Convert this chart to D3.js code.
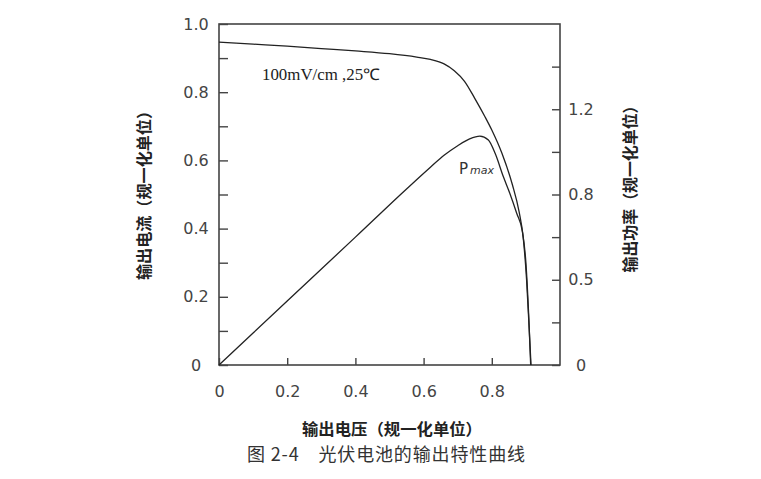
<!DOCTYPE html>
<html>
<head>
<meta charset="utf-8">
<script src="https://cdn.jsdelivr.net/npm/d3@7/dist/d3.min.js"></script>
<style>
  html, body { margin: 0; padding: 0; background: #fff; }
  svg { display: block; }
</style>
</head>
<body>
<svg id="chart" width="761" height="479"></svg>
<script>
// ---- data ----
const voltageIV = [0, 0.1, 0.2, 0.3, 0.4, 0.5, 0.58, 0.62, 0.66, 0.69, 0.72, 0.75, 0.78, 0.80, 0.83, 0.86, 0.88, 0.892, 0.902, 0.91, 0.915];
const currentIV = [0.947, 0.941, 0.935, 0.928, 0.921, 0.913, 0.903, 0.896, 0.883, 0.863, 0.832, 0.782, 0.728, 0.689, 0.62, 0.53, 0.45, 0.375, 0.25, 0.1, 0];

const voltagePV = [0, 0.2, 0.4, 0.55, 0.62, 0.66, 0.70, 0.735, 0.765, 0.79, 0.81, 0.834, 0.853, 0.873, 0.89, 0.90, 0.908, 0.914];
const powerPV   = [0, 0.30, 0.60, 0.826, 0.928, 0.984, 1.029, 1.061, 1.074, 1.056, 0.992, 0.883, 0.805, 0.712, 0.624, 0.48, 0.24, 0];

const xTickValues = [0, 0.2, 0.4, 0.6, 0.8];
const xTickLabels = ["0", "0.2", "0.4", "0.6", "0.8"];
const leftTickValues = [0, 0.1, 0.2, 0.3, 0.4, 0.5, 0.6, 0.7, 0.8, 0.9, 1.0];
const leftTickLabels = ["0", "", "0.2", "", "0.4", "", "0.6", "", "0.8", "", "1.0"];
const rightTickValues = [0, 0.2, 0.4, 0.6, 0.8, 1.0, 1.2, 1.4];
const rightTickLabels = ["0", "", "0.5", "", "0.8", "", "1.2", ""];

const xTitle = "输出电压（规一化单位）";
const yLeftTitle = "输出电流（规一化单位）";
const yRightTitle = "输出功率（规一化单位）";
const caption = "图 2-4\u3000光伏电池的输出特性曲线";
const conditionLabel = "100mV/cm ,25℃";

// ---- layout ----
const L = 219, R = 560, T = 24, B = 365;
const svg = d3.select("#chart");

const x = d3.scaleLinear().domain([0, 1]).range([L, R]);
const yL = d3.scaleLinear().domain([0, 1]).range([B, T]);
const yR = d3.scaleLinear().domain([0, 1.6]).range([B, T]);

const axisColor = "#444";
const labelFont = "'DejaVu Sans', sans-serif";
const cjk = "'Noto Sans CJK SC', sans-serif";

// frame
svg.append("rect")
  .attr("x", L).attr("y", T).attr("width", R - L).attr("height", B - T)
  .attr("fill", "none").attr("stroke", axisColor).attr("stroke-width", 1.6);

function styleAxis(g) {
  g.select(".domain").remove();
  g.selectAll(".tick line").attr("stroke", axisColor).attr("stroke-width", 1.4);
  g.selectAll(".tick text")
    .attr("fill", "#444")
    .style("font-family", labelFont)
    .style("font-size", "16px");
}

// left axis (ticks inward)
const gL = svg.append("g").attr("transform", `translate(${L},0)`)
  .call(d3.axisLeft(yL).tickValues(leftTickValues)
    .tickFormat((d, i) => leftTickLabels[i])
    .tickSizeInner(-9).tickSizeOuter(0));
styleAxis(gL);
gL.selectAll(".tick text").attr("text-anchor", "middle").attr("x", -23).attr("dy", "0.32em");

// bottom axis (ticks inward)
const gB = svg.append("g").attr("transform", `translate(0,${B})`)
  .call(d3.axisBottom(x).tickValues(xTickValues)
    .tickFormat((d, i) => xTickLabels[i])
    .tickSizeInner(-7).tickSizeOuter(0));
styleAxis(gB);
gB.selectAll(".tick text").attr("y", 32).attr("dy", 0);

// right axis (ticks inward)
const gR = svg.append("g").attr("transform", `translate(${R},0)`)
  .call(d3.axisRight(yR).tickValues(rightTickValues)
    .tickFormat((d, i) => rightTickLabels[i])
    .tickSizeInner(-8).tickSizeOuter(0));
styleAxis(gR);
gR.selectAll(".tick text").attr("text-anchor", "middle").attr("x", 21).attr("dy", "0.32em");

// curves
const ivData = voltageIV.map((v, i) => ({ v, y: currentIV[i] }));
const pvData = voltagePV.map((v, i) => ({ v, y: powerPV[i] }));

svg.append("path").datum(ivData)
  .attr("fill", "none").attr("stroke", "#222").attr("stroke-width", 1.3)
  .attr("d", d3.line().x(d => x(d.v)).y(d => yL(d.y)).curve(d3.curveMonotoneX));

svg.append("path").datum(pvData)
  .attr("fill", "none").attr("stroke", "#222").attr("stroke-width", 1.3)
  .attr("d", d3.line().x(d => x(d.v)).y(d => yR(d.y)).curve(d3.curveMonotoneX));

// annotations
svg.append("text")
  .attr("x", 262).attr("y", 80)
  .attr("textLength", 118).attr("lengthAdjust", "spacingAndGlyphs")
  .style("font-family", "'Liberation Serif', serif").style("font-size", "16px")
  .attr("fill", "#222")
  .text(conditionLabel);

const pm = svg.append("text").attr("x", 459).attr("y", 174).attr("fill", "#333")
  .style("font-family", labelFont);
pm.append("tspan").style("font-size", "15px").text("P");
pm.append("tspan").attr("dx", 2).style("font-size", "11px").style("font-style", "italic").text("max");

// axis titles
svg.append("text")
  .attr("transform", "translate(143,191.5) rotate(-90)")
  .attr("text-anchor", "middle").attr("dominant-baseline", "central")
  .attr("textLength", 177).attr("lengthAdjust", "spacingAndGlyphs")
  .style("font-family", cjk).style("font-size", "16px").style("font-weight", "bold")
  .attr("fill", "#222")
  .text(yLeftTitle);

svg.append("text")
  .attr("transform", "translate(629,185) rotate(-90)")
  .attr("text-anchor", "middle").attr("dominant-baseline", "central")
  .attr("textLength", 175).attr("lengthAdjust", "spacingAndGlyphs")
  .style("font-family", cjk).style("font-size", "16px").style("font-weight", "bold")
  .attr("fill", "#222")
  .text(yRightTitle);

svg.append("text")
  .attr("x", 302).attr("y", 435)
  .attr("textLength", 180).attr("lengthAdjust", "spacingAndGlyphs")
  .style("font-family", cjk).style("font-size", "16px").style("font-weight", "bold")
  .attr("fill", "#222")
  .text(xTitle);

svg.append("text")
  .attr("x", 247).attr("y", 461)
  .attr("textLength", 278).attr("lengthAdjust", "spacing")
  .style("font-family", cjk).style("font-size", "18px")
  .attr("fill", "#333")
  .text(caption);
</script>
</body>
</html>
